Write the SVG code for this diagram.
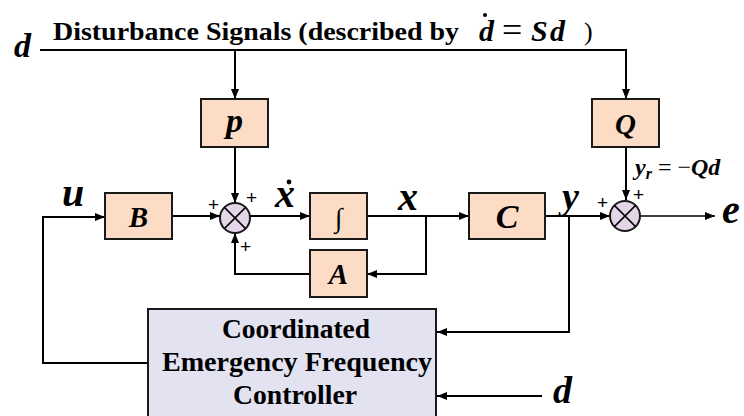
<svg xmlns="http://www.w3.org/2000/svg" width="744" height="416" viewBox="0 0 744 416">
<style>
.box{fill:#fcdcc4;stroke:#1a1a1a;stroke-width:2}
.ctl{fill:#e2e2f0;stroke:#1a1a1a;stroke-width:2}
.sum{fill:#e4d6e8;stroke:#1a1a1a;stroke-width:2}
.ln{fill:none;stroke:#000;stroke-width:2}
.ln1{fill:none;stroke:#000;stroke-width:1.5}
.lbl{font-family:'Liberation Serif','Times New Roman','DejaVu Serif',serif;font-weight:bold;font-style:italic;fill:#000}
.txt{font-family:'Liberation Serif','Times New Roman','DejaVu Serif',serif;font-weight:bold;fill:#000}
.pl{font-family:'Liberation Sans',Arial,sans-serif;font-size:19px;fill:#000}
</style>
<defs>
<marker id="ah" markerWidth="10" markerHeight="8" refX="10" refY="4" orient="auto" markerUnits="userSpaceOnUse">
<path d="M0,0 L10,4 L0,8 Z" fill="#000"/>
</marker>
</defs>
<g id="connectors">
<path class="ln" d="M40,50 H626 V99" marker-end="url(#ah)"/>
<path class="ln" d="M235,50 V99" marker-end="url(#ah)"/>
<path class="ln" d="M235,147 V203" marker-end="url(#ah)"/>
<path class="ln" d="M172,216 H220" marker-end="url(#ah)"/>
<path class="ln" d="M250,216 H310" marker-end="url(#ah)"/>
<path class="ln" d="M367,216 H469" marker-end="url(#ah)"/>
<path class="ln" d="M426,216 V274 H367" marker-end="url(#ah)"/>
<path class="ln" d="M310,274 H235 V233" marker-end="url(#ah)"/>
<path class="ln" d="M545,216 H610" marker-end="url(#ah)"/>
<path class="ln" d="M626,147 V200" marker-end="url(#ah)"/>
<path class="ln1" d="M641,216 H715" marker-end="url(#ah)"/>
<path class="ln" d="M569,216 V332 H437" marker-end="url(#ah)"/>
<path class="ln" d="M542,396 H437" marker-end="url(#ah)"/>
<path class="ln" d="M148,363 H43 V217 H105" marker-end="url(#ah)"/>
</g>
<g id="title">
<text class="lbl" x="14" y="57" font-size="34">d</text>
<text class="txt" x="53" y="40" font-size="26" textLength="406" lengthAdjust="spacingAndGlyphs">Disturbance Signals (described by</text>
<text class="lbl" x="479" y="41" font-size="30">d</text>
<circle cx="485" cy="15" r="2" fill="#000"/>
<text x="502" y="42" font-size="36" font-family="'Liberation Serif',serif" fill="#000">=</text>
<text class="lbl" x="531" y="41" font-size="30">S</text>
<text class="lbl" x="550" y="41" font-size="30">d</text>
<text x="584" y="40" font-size="26" font-family="'Liberation Serif',serif" fill="#000">)</text>
</g>
<g id="node-p">
<rect class="box" x="201" y="99" width="67" height="48"/>
<text class="lbl" x="234.5" y="132" font-size="34" text-anchor="middle">p</text>
</g>
<g id="node-Q">
<rect class="box" x="592" y="99" width="67" height="48"/>
<text class="lbl" x="625.5" y="134" font-size="29" text-anchor="middle">Q</text>
</g>
<g id="node-B">
<rect class="box" x="105" y="193" width="67" height="46"/>
<text class="lbl" x="138.5" y="227" font-size="29" text-anchor="middle">B</text>
</g>
<g id="node-int">
<rect class="box" x="310" y="193" width="57" height="46"/>
<text x="338.5" y="227" font-size="27" text-anchor="middle" font-family="'Liberation Serif',serif" fill="#000">∫</text>
</g>
<g id="node-A">
<rect class="box" x="310" y="250" width="57" height="47"/>
<text class="lbl" x="338.5" y="284" font-size="29" text-anchor="middle">A</text>
</g>
<g id="node-C">
<rect class="box" x="469" y="193" width="76" height="46"/>
<text class="lbl" x="507" y="228" font-size="34" text-anchor="middle">C</text>
</g>
<g id="sum1">
<circle class="sum" cx="235" cy="218" r="15"/>
<path class="ln1" d="M224.4,207.4 L245.6,228.6 M245.6,207.4 L224.4,228.6"/>
<text class="pl" x="208" y="211">+</text>
<text class="pl" x="246" y="204">+</text>
<text class="pl" x="240" y="253">+</text>
</g>
<g id="sum2">
<circle class="sum" cx="625" cy="216" r="15"/>
<path class="ln1" d="M614.4,205.4 L635.6,226.6 M635.6,205.4 L614.4,226.6"/>
<text class="pl" x="597" y="209">+</text>
<text class="pl" x="633" y="201">+</text>
</g>
<g id="controller">
<rect class="ctl" x="148" y="309" width="288" height="120"/>
<text class="txt" font-size="27" text-anchor="middle" x="296" y="338" textLength="148" lengthAdjust="spacingAndGlyphs">Coordinated</text>
<text class="txt" font-size="27" text-anchor="middle" x="297" y="371" textLength="270" lengthAdjust="spacingAndGlyphs">Emergency Frequency</text>
<text class="txt" font-size="27" text-anchor="middle" x="295" y="404" textLength="124" lengthAdjust="spacingAndGlyphs">Controller</text>
</g>
<g id="labels">
<text class="lbl" x="62" y="206" font-size="40">u</text>
<text class="lbl" x="275" y="207" font-size="40">x</text>
<circle cx="289" cy="182" r="2.4" fill="#000"/>
<text class="lbl" x="398" y="210" font-size="40">x</text>
<text class="lbl" x="562" y="209" font-size="38">y</text>
<text class="lbl" x="722" y="223" font-size="40">e</text>
<text class="lbl" x="635" y="175" font-size="24">y<tspan font-size="16" dy="4">r</tspan><tspan dy="-4" font-style="normal" font-weight="normal"> = −</tspan>Qd</text>
<text class="lbl" x="553" y="403" font-size="38">d</text>
</g>
</svg>
